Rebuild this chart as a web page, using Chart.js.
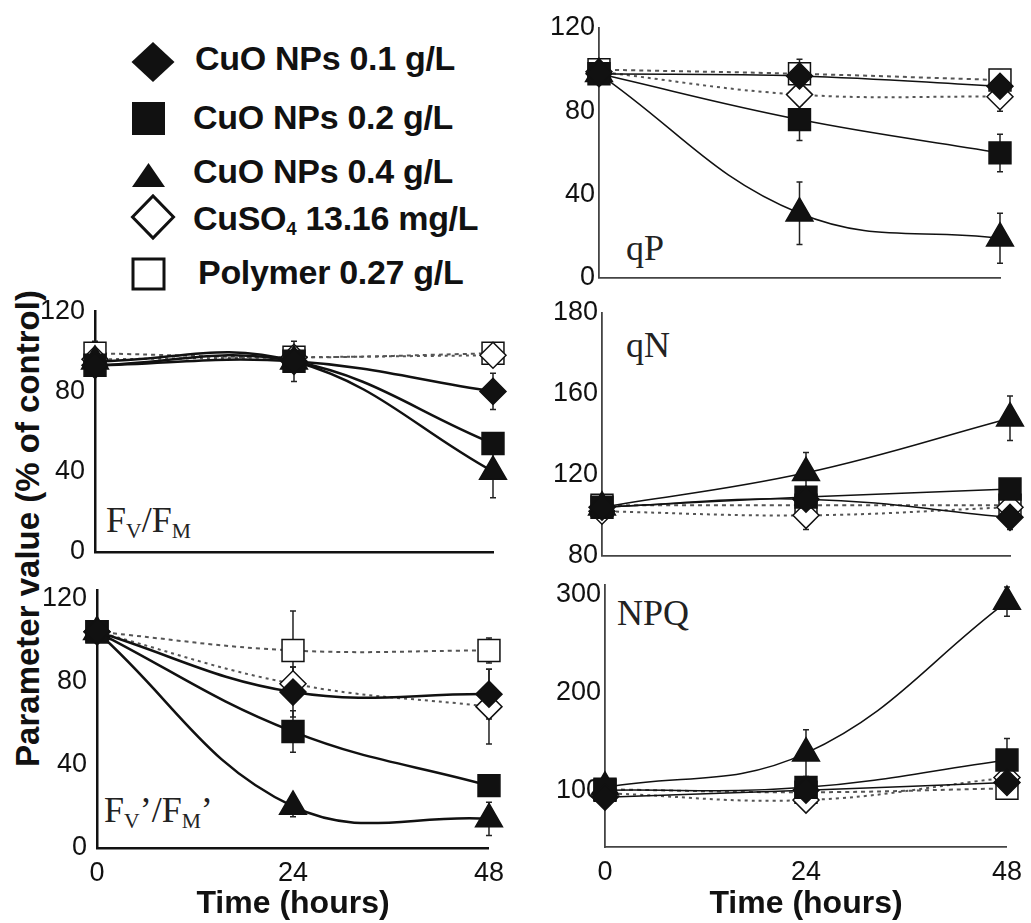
<!DOCTYPE html>
<html>
<head>
<meta charset="utf-8">
<script src="https://cdn.jsdelivr.net/npm/chart.js@4.4.1/dist/chart.umd.min.js"></script>
<style>
html, body { margin: 0; padding: 0; background: #fff; overflow: hidden; }
#page { position: relative; width: 1031px; height: 923px; }
canvas { position: absolute; }
.lbl { position: absolute; font-family: 'Liberation Serif', 'Times New Roman', serif; font-size: 36px; line-height: 1; color: #222; white-space: nowrap; }
.lbl sub { font-size: 0.6em; vertical-align: baseline; position: relative; top: 0.28em; }
.leg { position: absolute; font-family: 'Liberation Sans', Arial, sans-serif; font-weight: bold; font-size: 34px; letter-spacing: -0.3px; line-height: 1; color: #111; white-space: nowrap; }
.leg sub { font-size: 0.55em; vertical-align: baseline; position: relative; top: 0.25em; }
#ytitle { position: absolute; left: -273px; top: 512px; width: 600px; text-align: center; transform: rotate(-90deg); font-family: 'Liberation Sans', Arial, sans-serif; font-weight: bold; font-size: 33px; line-height: 1; color: #111; white-space: nowrap; }
</style>
</head>
<body>
<div id="page">
  <svg width="200" height="300" style="position:absolute;left:0;top:0">
    <polygon points="131.5,62 153,42 174.5,62 153,82" fill="#111"/>
    <rect x="132" y="102" width="33" height="33" fill="#111"/>
    <polygon points="132,187 148.5,163 165,187" fill="#111"/>
    <polygon points="132.5,217 153,196 173.5,217 153,238" fill="#fff" stroke="#111" stroke-width="3"/>
    <rect x="133" y="259" width="31" height="30" fill="#fff" stroke="#111" stroke-width="3"/>
  </svg>
  <div class="leg" style="left:195px;top:41px">CuO NPs 0.1 g/L</div>
  <div class="leg" style="left:193px;top:100px">CuO NPs 0.2 g/L</div>
  <div class="leg" style="left:193px;top:154px">CuO NPs 0.4 g/L</div>
  <div class="leg" style="left:193px;top:201px">CuSO<sub>4</sub> 13.16 mg/L</div>
  <div class="leg" style="left:198px;top:255px">Polymer 0.27 g/L</div>
  <div id="ytitle">Parameter value (% of control)</div>
  <div class="lbl" style="left:626px;top:230px">qP</div>
  <div class="lbl" style="left:626px;top:327px">qN</div>
  <div class="lbl" style="left:617px;top:595px">NPQ</div>
  <div class="lbl" style="left:106px;top:502px">F<sub>V</sub>/F<sub>M</sub></div>
  <div class="lbl" style="left:104px;top:792px">F<sub>V</sub>’/F<sub>M</sub>’</div>
</div>
<script>
// time points and series
const hours = [0, 24, 48];
const seriesNames = ['CuO NPs 0.1 g/L', 'CuO NPs 0.2 g/L', 'CuO NPs 0.4 g/L', 'CuSO4 13.16 mg/L', 'Polymer 0.27 g/L'];

// tick values / labels per panel
const qPTicks = [0, 40, 80, 120];
const qNTicks = [80, 120, 160, 200];
const qNTickLabels = ['80', '120', '160', '180'];
const npqTicks = [100, 200, 300];
const fTicks = [0, 40, 80, 120];

// means (% of control), one row per series, in seriesNames order
const qPMeans = [[98, 97, 92], [98, 76, 60], [98, 31, 19], [99, 88, 87], [100, 98, 95]];
const qPErrors = [[3, 8, 6], [3, 10, 9], [3, 15, 12], [3, 5, 7], [5, 3, 5]];

const fvfmMeans = [[93, 95, 80], [93, 95, 54], [95, 95, 40], [96, 97, 98], [99, 97, 99]];
const fvfmErrors = [[5, 10, 9], [4, 5, 4], [5, 5, 13], [5, 4, 4], [6, 5, 4]];

const qNMeans = [[104, 108, 99], [104, 109, 113], [104, 121, 148], [102, 100, 104], [105, 105, 105]];
const qNErrors = [[3, 6, 6], [3, 5, 4], [3, 10, 11], [3, 7, 5], [4, 3, 3]];

const fvfmPMeans = [[104, 75, 74], [104, 56, 30], [104, 20, 14], [104, 79, 68], [104, 95, 95]];
const fvfmPErrors = [[5, 12, 12], [5, 10, 5], [5, 5, 8], [5, 8, 18], [5, 19, 6]];

const npqMeans = [[93, 100, 108], [100, 103, 131], [103, 138, 293], [97, 90, 113], [101, 98, 102]];
const npqErrors = [[6, 5, 8], [5, 5, 22], [5, 24, 15], [5, 5, 8], [10, 5, 5]];

/* marker + line look for each series */
const styles = [
  { pointStyle: 'rectRot', radius: 13, fill: '#111', dash: [] },
  { pointStyle: 'rect', radius: 15.5, fill: '#111', dash: [] },
  { pointStyle: 'triangle', radius: 15.5, fill: '#111', dash: [] },
  { pointStyle: 'rectRot', radius: 13, fill: '#fff', dash: [3, 4] },
  { pointStyle: 'rect', radius: 15.5, fill: '#fff', dash: [4, 4] }
];

const panels = [
  { means: qPMeans, errors: qPErrors, ticks: qPTicks, labels: qPTicks.map(String), min: 0, max: 120, x0: 599, x1: 1000, top: 28, bot: 290, right: true, showX: false },
  { means: fvfmMeans, errors: fvfmErrors, ticks: fTicks, labels: fTicks.map(String), min: 0, max: 120, x0: 95, x1: 493, top: 307, bot: 570, right: false, showX: false },
  { means: qNMeans, errors: qNErrors, ticks: qNTicks, labels: qNTickLabels, min: 80, max: 200, x0: 602, x1: 1010, top: 313, bot: 568, right: true, showX: false },
  { means: fvfmPMeans, errors: fvfmPErrors, ticks: fTicks, labels: fTicks.map(String), min: 0, max: 124, x0: 97, x1: 495, top: 586, bot: 848, right: false, showX: true },
  { means: npqMeans, errors: npqErrors, ticks: npqTicks, labels: npqTicks.map(String), min: 42, max: 310, x0: 605, x1: 1013, top: 585, bot: 847, right: true, showX: true }
];

/* Error bars drawn behind markers */
const errorBars = {
  id: 'errorBars',
  beforeDatasetsDraw(chart) {
    const ctx = chart.ctx, ys = chart.scales.y;
    chart.data.datasets.forEach((ds, i) => {
      const meta = chart.getDatasetMeta(i);
      meta.data.forEach((pt, j) => {
        const v = ds.data[j].y, e = ds.errors[j];
        const y1 = ys.getPixelForValue(v + e), y2 = ys.getPixelForValue(v - e);
        ctx.save();
        ctx.strokeStyle = '#222';
        ctx.lineWidth = 1.5;
        ctx.beginPath();
        ctx.moveTo(pt.x, y1); ctx.lineTo(pt.x, y2);
        ctx.moveTo(pt.x - 3, y1); ctx.lineTo(pt.x + 3, y1);
        ctx.moveTo(pt.x - 3, y2); ctx.lineTo(pt.x + 3, y2);
        ctx.stroke();
        ctx.restore();
      });
    });
  }
};

const page = document.getElementById('page');
const YW = 80, PADT = 22, PADR = 18;

panels.forEach(p => {
  const XH = p.showX ? 923 - p.bot : 8;
  const w = YW + (p.x1 - p.x0) + PADR;
  const h = PADT + (p.bot - p.top) + XH;
  const cv = document.createElement('canvas');
  cv.width = w; cv.height = h;
  cv.style.width = w + 'px'; cv.style.height = h + 'px';
  cv.style.left = (p.x0 - YW) + 'px';
  cv.style.top = (p.top - PADT) + 'px';
  page.appendChild(cv);

  const axisColor = p.right ? '#444' : '#111';
  const axisW = p.right ? 1.8 : 2.5;

  const datasets = p.means.map((vals, k) => ({
    label: seriesNames[k],
    data: hours.map((hr, j) => ({ x: hr, y: vals[j] })),
    errors: p.errors[k],
    borderColor: k < 3 ? '#111' : '#555',
    borderWidth: k < 3 ? (p.right ? 1.5 : 2.5) : 2,
    borderDash: styles[k].dash,
    tension: 0.4,
    fill: false,
    clip: false,
    pointStyle: styles[k].pointStyle,
    pointRadius: styles[k].radius,
    pointBackgroundColor: styles[k].fill,
    pointBorderColor: '#111',
    pointBorderWidth: 1.5
  }));

  new Chart(cv, {
    type: 'line',
    data: { datasets },
    options: {
      responsive: false,
      animation: false,
      events: [],
      layout: { padding: { top: PADT, right: PADR, left: 0, bottom: 0 } },
      plugins: { legend: { display: false }, tooltip: { enabled: false } },
      scales: {
        x: {
          type: 'linear', min: 0, max: 48,
          afterFit(s) { s.height = XH; },
          afterBuildTicks(s) { s.ticks = hours.map(v => ({ value: v })); },
          grid: { display: false, drawTicks: false },
          border: { display: true, color: axisColor, width: axisW },
          ticks: { display: p.showX, padding: 9, color: '#111', font: { family: 'Liberation Sans', size: 27 } },
          title: { display: p.showX, text: 'Time (hours)', color: '#111', padding: { top: 0, bottom: 0 },
                   font: { family: 'Liberation Sans', size: 32, weight: 'bold' } }
        },
        y: {
          min: p.min, max: p.max,
          afterFit(s) { s.width = YW; },
          afterBuildTicks(s) { s.ticks = p.ticks.map(v => ({ value: v })); },
          grid: { display: false, drawTicks: false },
          border: { display: true, color: axisColor, width: axisW },
          ticks: { padding: p.right ? 4 : 10, color: '#111', font: { family: 'Liberation Sans', size: 27 },
                   callback: (v, i) => p.labels[i] }
        }
      }
    },
    plugins: [errorBars]
  });
});
</script>
</body>
</html>
